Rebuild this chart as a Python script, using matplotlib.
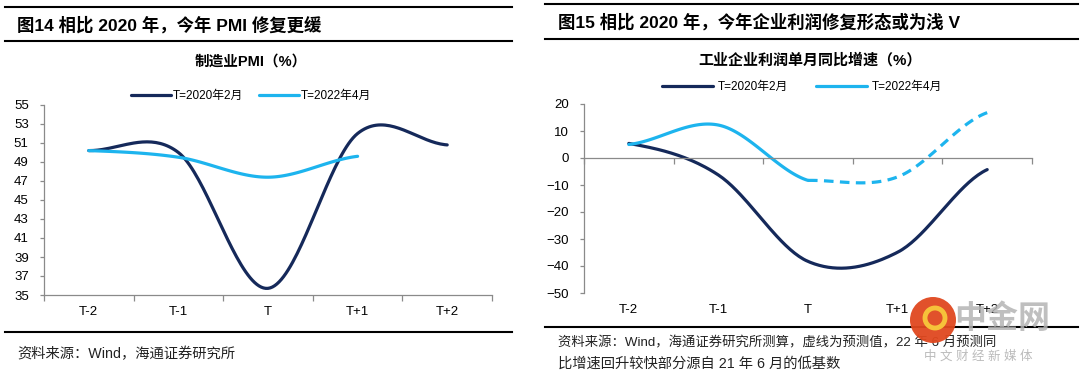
import numpy as np
import matplotlib
matplotlib.use('Agg')
import matplotlib.pyplot as plt
import matplotlib.transforms as mtransforms
from matplotlib.lines import Line2D
from matplotlib.patches import Ellipse

plt.rcParams['font.family'] = ['Liberation Sans', 'Noto Sans CJK SC', 'DejaVu Sans']

# ---------------- data ----------------
categories = ['T-2', 'T-1', 'T', 'T+1', 'T+2']
pmi_2020 = [50.2, 50.0, 35.7, 52.0, 50.8]
pmi_2022 = [50.2, 49.5, 47.4, 49.6]
profit_2020 = [5.4, -6.3, -38.3, -34.9, -4.3]
profit_2022_actual = [5.0, 12.2, -8.3]          # T-2 .. T
profit_2022_forecast = [-8.3, -7.0, 16.8]       # T .. T+2 (forecast, dashed)
series_names = ['T=2020年2月', 'T=2022年4月']

DARK = '#15295a'
LIGHT = '#1db4ee'
AXC = '#8a8a8a'
W, H = 1080, 375
TICK_FS = 9.5


def smooth(y, start=0, n=40):
    """Excel-like smoothed line (cubic Hermite / Catmull-Rom through the points)."""
    y = np.asarray(y, float)
    k = len(y)
    m = np.zeros(k)
    if k > 2:
        m[1:-1] = (y[2:] - y[:-2]) / 2.0
    m[0] = (y[1] - y[0]) / 2.0
    m[-1] = (y[-1] - y[-2]) / 2.0
    xs, ys = [], []
    for i in range(k - 1):
        t = np.linspace(0, 1, n, endpoint=(i == k - 2))
        h00 = 2 * t**3 - 3 * t**2 + 1
        h10 = t**3 - 2 * t**2 + t
        h01 = -2 * t**3 + 3 * t**2
        h11 = t**3 - t**2
        ys.append(h00 * y[i] + h10 * m[i] + h01 * y[i + 1] + h11 * m[i + 1])
        xs.append(start + i + t)
    return np.concatenate(xs), np.concatenate(ys)


fig = plt.figure(figsize=(W / 100, H / 100), dpi=100)


def hline(x0, x1, y, lw=1.5):
    fig.add_artist(Line2D([x0 / W, x1 / W], [1 - y / H, 1 - y / H], lw=lw,
                          color='black', transform=fig.transFigure))


def style_axes(ax):
    for s in ['top', 'right']:
        ax.spines[s].set_visible(False)
    for s in ['left', 'bottom']:
        ax.spines[s].set_color(AXC)
        ax.spines[s].set_linewidth(0.9)
    ax.set_xlim(-0.5, len(categories) - 0.5)
    ax.set_xticks(np.arange(-0.5, len(categories), 1.0))
    ax.set_xticklabels([])
    ax.tick_params(axis='x', which='major', direction='out', length=4, color=AXC, width=0.9)
    ax.tick_params(axis='y', direction='out', length=3, color=AXC, width=0.9,
                   labelsize=TICK_FS, pad=8)


# ---------------- left panel ----------------
hline(5, 512, 7)
hline(5, 512, 41)
hline(5, 512, 332)
fig.text(17 / W, 1 - 25 / H, '图14 相比 2020 年，今年 PMI 修复更缓', fontsize=12.5,
         fontweight='bold', va='center', ha='left')
fig.text(251 / W, 1 - 62 / H, '制造业PMI（%）', fontsize=10.5, fontweight='bold',
         va='center', ha='center')
fig.text(17 / W, 1 - 354 / H, '资料来源：Wind，海通证券研究所', fontsize=10.3,
         va='center', ha='left', color='#222222')

ax1 = fig.add_axes([44 / W, 1 - 295 / H, 448 / W, 190 / H])
style_axes(ax1)
ax1.set_ylim(35, 55)
ax1.set_yticks(np.arange(35, 56, 2))
ax1.set_xticks(np.arange(len(categories)), minor=True)
ax1.set_xticklabels(categories, minor=True, fontsize=TICK_FS)
ax1.tick_params(axis='x', which='minor', length=0, pad=8)
xs, ys = smooth(pmi_2020)
l1, = ax1.plot(xs, ys, color=DARK, lw=2.3, solid_capstyle='round')
xs, ys = smooth(pmi_2022)
l2, = ax1.plot(xs, ys, color=LIGHT, lw=2.3, solid_capstyle='round')
fig.legend([l1, l2], series_names, loc='center', bbox_to_anchor=(251 / W, 1 - 96 / H),
           ncol=2, frameon=False, fontsize=8.5, handlelength=3.4, handletextpad=0.15,
           columnspacing=1.3, borderpad=0)

# ---------------- right panel ----------------
hline(545, 1078, 4)
hline(545, 1078, 39)
hline(545, 1078, 327)
fig.text(558 / W, 1 - 22 / H, '图15 相比 2020 年，今年企业利润修复形态或为浅 V', fontsize=12.5,
         fontweight='bold', va='center', ha='left')
fig.text(810 / W, 1 - 60 / H, '工业企业利润单月同比增速（%）', fontsize=10.8, fontweight='bold',
         va='center', ha='center')
fig.text(558 / W, 1 - 343 / H, '资料来源：Wind，海通证券研究所测算，虚线为预测值，22 年 6 月预测同',
         fontsize=9.6, va='center', ha='left', color='#222222')
fig.text(558 / W, 1 - 364 / H, '比增速回升较快部分源自 21 年 6 月的低基数',
         fontsize=10.3, va='center', ha='left', color='#222222')

ax2 = fig.add_axes([584 / W, 1 - 293 / H, 448 / W, 189 / H])
style_axes(ax2)
ax2.set_ylim(-50, 20)
ax2.set_yticks(np.arange(-50, 21, 10))
ax2.spines['bottom'].set_position(('data', 0))
trans = mtransforms.blended_transform_factory(ax2.transData, ax2.transAxes)
for i, c in enumerate(categories):
    ax2.text(i, -0.09, c, transform=trans, ha='center', va='center', fontsize=TICK_FS)
xs, ys = smooth(profit_2020)
r1, = ax2.plot(xs, ys, color=DARK, lw=2.3, solid_capstyle='round')
xs, ys = smooth(profit_2022_actual)
r2, = ax2.plot(xs, ys, color=LIGHT, lw=2.3, solid_capstyle='round')
xs, ys = smooth(profit_2022_forecast, start=len(profit_2022_actual) - 1)
ax2.plot(xs, ys, color=LIGHT, lw=2.3, ls=(0, (3, 2)))
fig.legend([r1, r2], series_names, loc='center', bbox_to_anchor=(802 / W, 1 - 87 / H),
           ncol=2, frameon=False, fontsize=8.5, handlelength=4.3, handletextpad=0.4,
           columnspacing=2.4, borderpad=0)

# ---------------- watermark ----------------
fig.add_artist(Ellipse((933 / W, 1 - 320 / H), 46 / W, 46 / H, transform=fig.transFigure,
                       facecolor='#e0481f', edgecolor='none', alpha=0.95, zorder=10))
fig.add_artist(Ellipse((935 / W, 1 - 318 / H), 20 / W, 20 / H, transform=fig.transFigure,
                       facecolor='none', edgecolor='#f6c23a', lw=3.5, zorder=11))
fig.text(1002 / W, 1 - 320 / H, '中金网', fontsize=23, fontweight='bold', color='#b4b4b4',
         ha='center', va='center', alpha=0.85, zorder=10)
fig.text(978 / W, 1 - 357 / H, '中 文 财 经 新 媒 体', fontsize=9, color='#b4b4b4',
         ha='center', va='center', alpha=0.9, zorder=10)

fig.savefig('out.png', dpi=100)
